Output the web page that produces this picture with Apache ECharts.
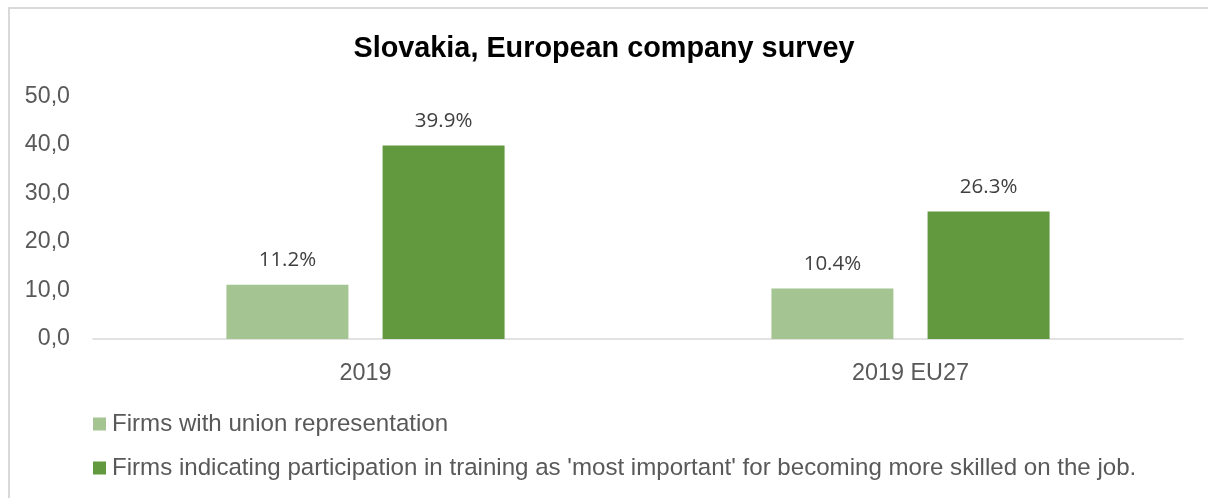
<!DOCTYPE html>
<html>
<head>
<meta charset="utf-8">
<script src="https://cdn.jsdelivr.net/npm/echarts@6/dist/echarts.min.js"></script>
<style>
html,body{margin:0;padding:0;background:#fff;overflow:hidden;}
#frame{position:absolute;left:8px;top:7px;width:1300px;height:600px;border-left:2px solid #d9d9d9;border-top:2px solid #d9d9d9;box-sizing:border-box;}
#chart{position:absolute;left:0;top:0;width:1208px;height:498px;}
</style>
</head>
<body>
<div id="frame"></div>
<div id="chart"></div>
<script>
const categories = ['2019', '2019 EU27'];
const seriesNames = ['Firms with union representation', "Firms indicating participation in training as 'most important' for becoming more skilled on the job."];
const unionValues = [11.2, 10.4];
const trainingValues = [39.9, 26.3];
const yTicks = [0, 10, 20, 30, 40, 50];

const chart = echarts.init(document.getElementById('chart'));
const labelStyle = {
  show: true, position: 'top', distance: 14,
  color: '#404040', fontSize: 20.5, fontFamily: 'Open Sans',
  formatter: p => p.value.toFixed(1) + '%'
};
chart.setOption({
  animation: false,
  title: {
    text: 'Slovakia, European company survey',
    left: 'center', top: 30,
    textStyle: { fontFamily: 'Liberation Sans', fontSize: 28.8, fontWeight: 'bold', color: '#000' }
  },
  grid: { left: 93, right: 25, top: 96.5, height: 242.5, containLabel: false },
  legend: {
    orient: 'vertical', left: 93, top: 412, itemGap: 20, padding: 0,
    itemWidth: 13, itemHeight: 13, icon: 'rect',
    textStyle: { fontFamily: 'Liberation Sans', fontSize: 24.1, color: '#595959', padding: [0, 0, 0, 1] },
    data: seriesNames
  },
  xAxis: {
    type: 'category', data: categories,
    axisLine: { lineStyle: { color: '#d9d9d9', width: 1.5 } },
    axisTick: { show: false },
    axisLabel: { fontFamily: 'Liberation Sans', fontSize: 23.4, color: '#595959', margin: 23 }
  },
  yAxis: {
    type: 'value', min: 0, max: 50, interval: 10,
    splitLine: { show: false },
    axisLine: { show: false }, axisTick: { show: false },
    axisLabel: {
      fontFamily: 'Liberation Sans', fontSize: 23.2, color: '#595959', margin: 23,
      formatter: v => yTicks.includes(v) ? v.toFixed(1).replace('.', ',') : ''
    }
  },
  series: [
    { name: seriesNames[0], type: 'bar', data: unionValues, barWidth: 122, barGap: '28%',
      itemStyle: { color: '#A4C491' }, label: labelStyle },
    { name: seriesNames[1], type: 'bar', data: trainingValues, barWidth: 122,
      itemStyle: { color: '#62993E' }, label: labelStyle }
  ]
});
</script>
</body>
</html>
